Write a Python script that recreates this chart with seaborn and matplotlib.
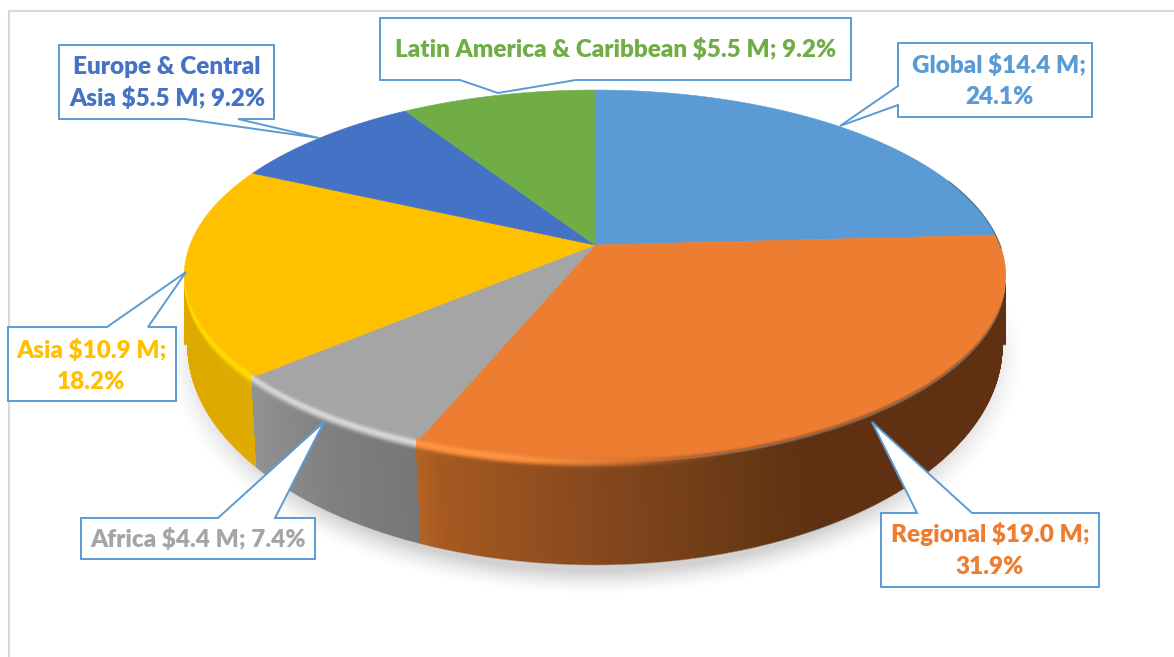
import numpy as np
import matplotlib
matplotlib.use("Agg")
import matplotlib.pyplot as plt
import seaborn as sns
from matplotlib.patches import Polygon

# ============== data ==============
categories = ["Global", "Regional", "Africa", "Asia", "Europe & Central Asia", "Latin America & Caribbean"]
funding_musd = [14.4, 19.0, 4.4, 10.9, 5.5, 5.5]
slice_colors = ["#5B9BD5", "#ED7D31", "#A5A5A5", "#FFC000", "#4472C4", "#70AD47"]
label_texts = [
    "Global $14.4 M;\n24.1%",
    "Regional $19.0 M;\n31.9%",
    "Africa $4.4 M; 7.4%",
    "Asia $10.9 M;\n18.2%",
    "Europe & Central\nAsia $5.5 M; 9.2%",
    "Latin America & Caribbean $5.5 M; 9.2%",
]

# ============== callout layout (pixels) ==============
callouts = [
    [(898, 43), (1092, 43), (1092, 117), (898, 117), (898, 105), (840, 126), (898, 86)],
    [(881, 513), (917, 513), (872, 422), (972, 513), (1099, 513), (1099, 587), (881, 587)],
    [(81, 518), (218, 518), (324, 422), (275, 518), (315, 518), (315, 559), (81, 559)],
    [(8, 327), (107, 327), (186, 272), (148, 327), (176, 327), (176, 401), (8, 401)],
    [(59, 45), (274, 45), (274, 119), (238, 119), (319, 138), (185, 119), (59, 119)],
    [(380, 18), (851, 18), (851, 80), (576, 80), (498, 93), (460, 80), (380, 80)],
]
label_pos = [(999, 81), (990, 550), (198, 540), (91, 366), (167, 83), (616, 50)]
box_blue = "#5B9BD5"

W, H = 1174, 657
APEX = (595.0, 245.0)


def project(theta_deg):
    # perspective view of the unit circle, apex stays off the ellipse centre
    t = np.radians(theta_deg)
    t = t - np.radians(1.6) * np.clip(-np.cos(t), 0, 1)  # left side of the reference sits a bit rotated
    x, y = np.cos(t), np.sin(t)
    den = 1 + y / 6
    return APEX[0] + 405 * x / den, APEX[1] - 180.8 * y / den


sns.set_theme(style="white")
plt.rcParams["font.family"] = ["Lato", "DejaVu Sans"]

fig = plt.figure(figsize=(W / 100, H / 100), dpi=100)
ax = fig.add_axes([0, 0, 1, 1])
palette = sns.color_palette(slice_colors)

wedges, _ = ax.pie(funding_musd, colors=palette, startangle=90, counterclock=False)
ax.set_aspect("auto")

# ============== pixel grid for shadow and side wall ==============
xx, yy = np.meshgrid(np.arange(W) + 0.5, np.arange(H) + 0.5)
RIM_CX, RIM_CY, RIM_RX, RIM_RY = 595.0, 276.0, 411.0, 186.0
BOT_CX, BOT_CY, BOT_RX, BOT_RY = 595.0, 345.0, 408.0, 220.0

# soft shadow
d = np.hypot((xx - 595) / 418, (yy - 350) / 238)
sh = np.clip((1.03 - d) / 0.10, 0, 1) ** 1.5 * np.clip((yy - 290) / 60, 0, 1)
shadow = np.zeros((H, W, 4))
shadow[..., :3] = 0.45
shadow[..., 3] = 0.32 * sh
ax.imshow(shadow, extent=(0, W, H, 0), zorder=1, aspect="auto", interpolation="bilinear")

# top surface, wedge by wedge
boundaries = {}
top_cols = {}
for wedge, name in zip(wedges, categories):
    fc = wedge.get_facecolor()
    top_cols[name] = fc
    thetas = np.linspace(wedge.theta1, wedge.theta2, 160)
    px, py = project(thetas)
    ax.fill(np.r_[APEX[0], px], np.r_[APEX[1], py], color=fc, lw=0.4, zorder=2)
    low = py > RIM_CY
    if low.any():
        boundaries[name] = (px[low].min(), px[low].max())
    wedge.remove()

# side wall colours along x
wall_ramps = {
    "Regional": ([419, 440, 600, 740, 810, 1010],
                 [(178, 98, 36), (166, 90, 33), (133, 72, 30), (106, 58, 22), (95, 49, 18), (95, 49, 18)]),
    "Africa": ([250, 330, 420], [(146, 146, 146), (128, 128, 128), (118, 118, 118)]),
    "Asia": ([180, 260], [(222, 170, 0), (224, 172, 0)]),
}
ridge_cols = {"Regional": (1.0, 0.58, 0.26), "Africa": (0.84, 0.84, 0.84), "Asia": (1.0, 0.86, 0.0)}

rim_y = RIM_CY + RIM_RY * np.sqrt(np.clip(1 - ((xx - RIM_CX) / RIM_RX) ** 2, 0, 1))
bot_y = BOT_CY + BOT_RY * np.sqrt(np.clip(1 - ((xx - BOT_CX) / BOT_RX) ** 2, 0, 1))
t_down = np.clip((yy - rim_y) / np.maximum(bot_y - rim_y, 1), 0, 1)
x_key = xx - 5 * t_down  # side seams lean slightly
strength = np.clip((720 - xx) / 220, 0, 1)  # lit ridge fades out towards the right

wall = np.zeros((H, W, 4))
ridge = strength * np.exp(-(((yy - rim_y + 1) / 4.5) ** 2))
side = np.clip((yy - rim_y - 1) / 5, 0, 1)  # 0 on the bevel, 1 on the wall
for name, (x_lo, x_hi) in boundaries.items():
    mask = (x_key >= x_lo) & (x_key < x_hi)
    if name == "Asia":
        mask = x_key < x_hi
    if name == "Regional":
        mask = x_key >= x_lo
    stops, cols = wall_ramps[name]
    cols = np.array(cols) / 255.0
    rc = np.array(ridge_cols[name])
    for c in range(3):
        ramp = np.interp(x_key, stops, cols[:, c])
        mix = (1 - side) * strength
        base = ramp * (1 - mix) + top_cols[name][c] * mix
        wall[..., c][mask] = (base * (1 - ridge) + rc[c] * ridge)[mask]

alpha = np.clip((yy - rim_y + 3 + 5 * strength) / 6, 0, 1) * np.clip((bot_y - yy) / 1.5 + 0.5, 0, 1)
alpha[(yy < RIM_CY) | (xx < RIM_CX - RIM_RX) | (xx > RIM_CX + RIM_RX)] = 0
wall[..., 3] = alpha
ax.imshow(wall, extent=(0, W, H, 0), zorder=3, aspect="auto", interpolation="bilinear")

# thin dark edge on the right shoulder of the disc
tr = np.linspace(-1, 22, 40)
ex, ey = project(tr)
ax.plot(ex, ey, color="#4A5A6A", lw=1.0, alpha=0.6, zorder=4)

# frame left from the pasted chart
ax.plot([8.5, 8.5, W], [H, 11, 11], color="#D9D9D9", lw=1.5, zorder=4)

# callouts
for pts, txt, pos, col in zip(callouts, label_texts, label_pos, slice_colors):
    ax.add_patch(Polygon(pts, closed=True, fc="white", ec=box_blue, lw=1.4, zorder=5, joinstyle="miter"))
    ax.text(pos[0], pos[1], txt, color=col, fontsize=17.5, fontweight="heavy", ha="center", va="center",
            linespacing=1.5, zorder=6)

ax.set_xlim(0, W)
ax.set_ylim(H, 0)
ax.set_xticks([])
ax.set_yticks([])
ax.set_frame_on(False)
fig.savefig("out.png", dpi=100, facecolor="white")
